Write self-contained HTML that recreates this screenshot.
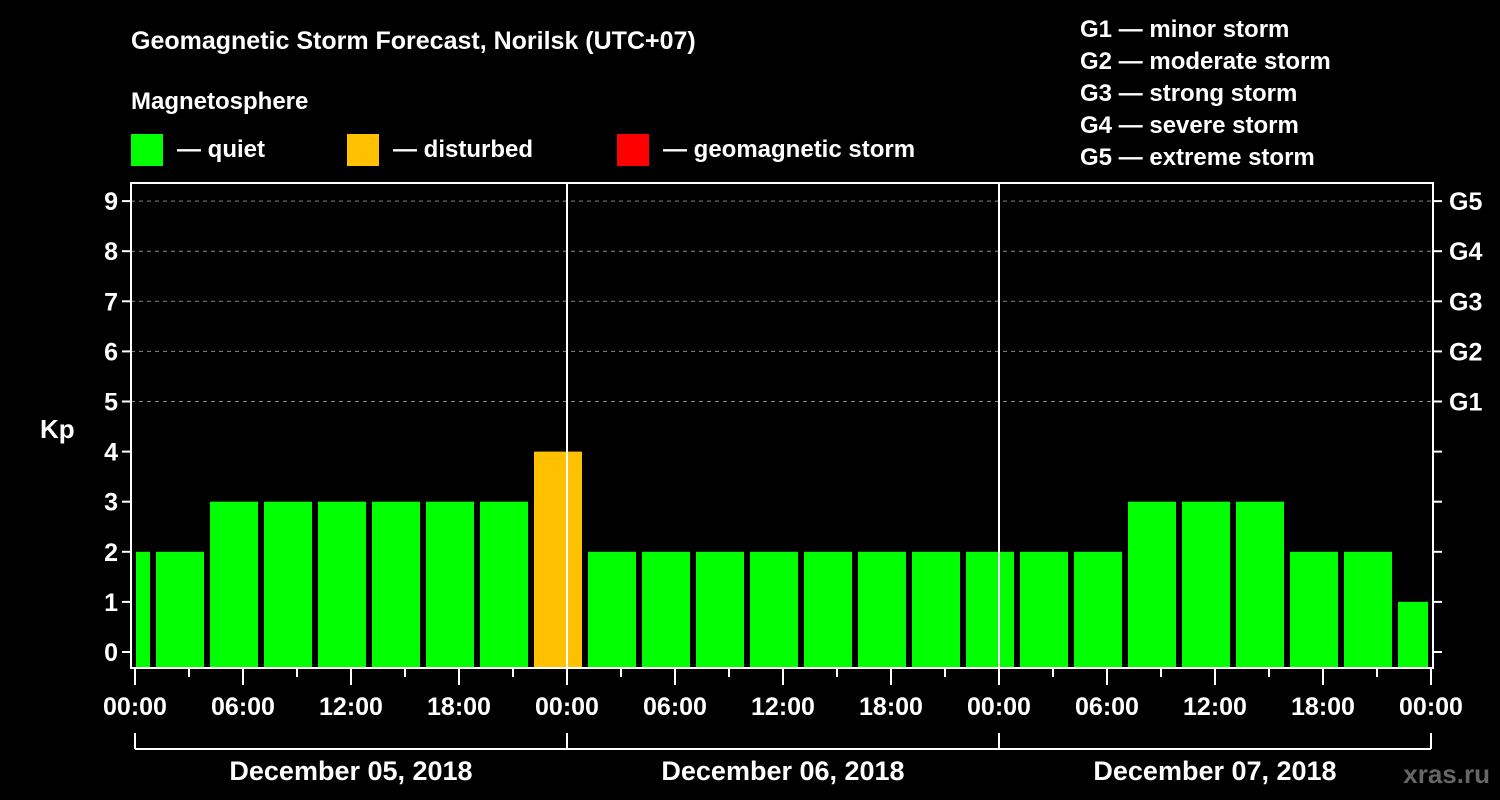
<!DOCTYPE html>
<html><head><meta charset="utf-8"><style>
body{margin:0;background:#000;}
svg{display:block;font-family:"Liberation Sans",Arial,sans-serif;font-weight:bold;}
</style></head><body>
<svg id="c" width="1500" height="800" viewBox="0 0 1500 800">
<rect width="1500" height="800" fill="#000"/>
<text x="131" y="49" fill="#fff" font-size="25">Geomagnetic Storm Forecast, Norilsk (UTC+07)</text>
<text x="131" y="109" fill="#fff" font-size="24">Magnetosphere</text>
<g><rect x="131" y="134" width="32" height="32" fill="#00ff00"/><text x="177" y="157" fill="#fff" font-size="24">— quiet</text></g>
<g><rect x="347" y="134" width="32" height="32" fill="#ffc000"/><text x="393" y="157" fill="#fff" font-size="24">— disturbed</text></g>
<g><rect x="617" y="134" width="32" height="32" fill="#ff0000"/><text x="663" y="157" fill="#fff" font-size="24">— geomagnetic storm</text></g>
<g fill="#fff" font-size="24">
<text x="1080" y="37">G1 — minor storm</text>
<text x="1080" y="69">G2 — moderate storm</text>
<text x="1080" y="101">G3 — strong storm</text>
<text x="1080" y="133">G4 — severe storm</text>
<text x="1080" y="165">G5 — extreme storm</text>
</g>
<text x="40" y="438" fill="#fff" font-size="26">Kp</text>
<text x="1490" y="783" fill="#666" font-size="26" text-anchor="end">xras.ru</text>
<g id="plot"></g>
</svg>
<script>
const kpValues=[2,2,3,3,3,3,3,3,4,2,2,2,2,2,2,2,2,2,2,3,3,3,2,2,1];
const binStartHours=[-2,1,4,7,10,13,16,19,22,25,28,31,34,37,40,43,46,49,52,55,58,61,64,67,70];
const dayLabels=["December 05, 2018","December 06, 2018","December 07, 2018"];
const yTicks=[0,1,2,3,4,5,6,7,8,9];
const gLabels={5:"G1",6:"G2",7:"G3",8:"G4",9:"G5"};
const NS="http://www.w3.org/2000/svg";
const g=document.getElementById('plot');
const X0=135,PXH=18,L=131,R=1433,T=183,B=668;
const xs=h=>X0+h*PXH;
const ys=k=>652-50.1*k;
function mk(t,a){const e=document.createElementNS(NS,t);for(const k in a)e.setAttribute(k,a[k]);g.appendChild(e);return e;}
function col(v){return v>=5?"#ff0000":(v>=4?"#ffc000":"#00ff00");}
// grid
yTicks.forEach(k=>{
  if(k>=5){const l=mk('line',{x1:L,x2:R,y1:ys(k),y2:ys(k),stroke:'#888','stroke-dasharray':'4,4','stroke-width':1});
  
  }
  const t=mk('line',{x1:L-9,x2:L,y1:ys(k),y2:ys(k),stroke:'#fff','stroke-width':2});
  
  
  const t2=mk('line',{x1:R,x2:R+9,y1:ys(k),y2:ys(k),stroke:'#fff','stroke-width':2});
  
  
  const tx=mk('text',{x:L-13,y:ys(k)+9,fill:'#fff','font-size':25,'text-anchor':'end'});
  tx.textContent=k;
  
  
  if(gLabels[k]){const gt=mk('text',{x:1449,y:ys(k)+9,fill:'#fff','font-size':25});
  gt.textContent=gLabels[k];
  
  }
});
// bars
kpValues.forEach((v,i)=>{
  let a=Math.max(xs(binStartHours[i])+3,X0+1),b=Math.min(xs(binStartHours[i]+3)-3,xs(72)-3);
  const r=mk('rect',{x:a,y:ys(v),width:b-a,height:B-ys(v),fill:col(v)});
  
  
});
// day separators
[1,2].forEach(d=>{const l=mk('line',{x1:xs(24*d),x2:xs(24*d),y1:T,y2:B,stroke:'#fff','stroke-width':2});
  
  });
// frame
const f=mk('rect',{x:L,y:T,width:R-L,height:B-T,fill:'none',stroke:'#fff','stroke-width':2});


// x ticks
for(let h=0;h<=72;h+=3){
  const major=h%6===0;
  const l=mk('line',{x1:xs(h),x2:xs(h),y1:B,y2:B+(major?17:9),stroke:'#fff','stroke-width':2});
  
  
  if(major){const t=mk('text',{x:xs(h),y:715,fill:'#fff','font-size':25,'text-anchor':'middle'});
  t.textContent=String(h%24).padStart(2,'0')+':00';
  
  }
}
// date bracket
const bl=mk('line',{x1:xs(0),x2:xs(72),y1:749,y2:749,stroke:'#fff','stroke-width':2});


[0,1,2,3].forEach(d=>{const l=mk('line',{x1:xs(24*d),x2:xs(24*d),y1:733,y2:749,stroke:'#fff','stroke-width':2});
  
  });
dayLabels.forEach((s,d)=>{const t=mk('text',{x:xs(24*d+12),y:780,fill:'#fff','font-size':27,'text-anchor':'middle'});
  t.textContent=s;
  
  });
</script>
</body></html>
